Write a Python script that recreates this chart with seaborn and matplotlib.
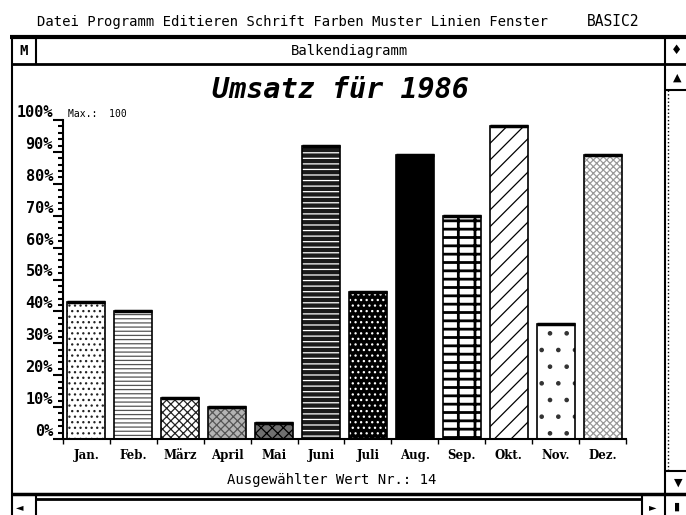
import numpy as np
import matplotlib
matplotlib.use('Agg')
import matplotlib.pyplot as plt
import seaborn as sns

# Daten: Umsatz je Monat in Prozent
monate = ['Jan.', 'Feb.', 'März', 'April', 'Mai', 'Juni', 'Juli', 'Aug.', 'Sep.', 'Okt.', 'Nov.', 'Dez.']
umsatz = [43, 40, 13, 10, 5, 92, 46, 89, 70, 98, 36, 89]
prozent = [0, 10, 20, 30, 40, 50, 60, 70, 80, 90, 100]
menue = ['Datei', 'Programm', 'Editieren', 'Schrift', 'Farben', 'Muster', 'Linien', 'Fenster']

# Muster je Balken (Füllfarbe, Musterfarbe, Muster)
fuellung = ['white', 'white', 'white', '#b4b4b4', '#707070', '#1a1a1a',
            'black', 'black', 'white', 'white', 'white', 'white']
musterfarbe = ['#222222', '#555555', '#222222', '#555555', 'black', 'white',
               'white', 'black', 'black', 'black', '#333333', '#999999']
muster = ['...', '----', 'xxxx', 'xxxx', 'xxx', '---', '...', '', '+-', '//', '.', 'xxxxx']

sns.set_theme(style='ticks')
plt.rcParams['font.family'] = ['DejaVu Sans Mono', 'DejaVu Sans']
plt.rcParams['hatch.linewidth'] = 0.9
plt.rcParams['text.color'] = 'black'
plt.rcParams['xtick.color'] = 'black'
plt.rcParams['ytick.color'] = 'black'

fig = plt.figure(figsize=(6.86, 5.15), dpi=100)

# Fensterrahmen in Pixelkoordinaten
bg = fig.add_axes([0, 0, 1, 1])
bg.set_xlim(0, 686)
bg.set_ylim(515, 0)
bg.axis('off')

def linie(x, y, lw=1.5, ls='-'):
    bg.plot(x, y, color='black', lw=lw, ls=ls, solid_capstyle='butt')

linie([10, 686], [37, 37], lw=3)
linie([12, 686], [64, 64], lw=2)
linie([12, 12], [37, 515])
linie([36, 36], [37, 64])
linie([665, 665], [37, 515])
linie([665, 686], [90, 90])
linie([668, 668], [90, 471], lw=1, ls=':')
linie([665, 686], [471, 471])
linie([12, 686], [494, 494], lw=2.5)
linie([36, 642], [499, 499], lw=2)
linie([36, 36], [494, 515])
linie([642, 642], [494, 515])

bg.text(37, 22, ' '.join(menue), fontsize=10, va='center', ha='left')
bg.text(587, 22, 'BASIC2', fontsize=10.5, va='center', ha='left')
bg.text(349, 51, 'Balkendiagramm', fontsize=10, va='center', ha='center')
bg.text(24, 51, 'M', fontsize=10, fontweight='bold', va='center', ha='center')
bg.text(677, 51, '♦', fontsize=9, va='center', ha='center', family='DejaVu Sans')
bg.text(677, 78, '▲', fontsize=8, va='center', ha='center', family='DejaVu Sans')
bg.text(678, 483, '▼', fontsize=8, va='center', ha='center', family='DejaVu Sans')
bg.text(20, 507, '◄', fontsize=7, va='center', ha='center', family='DejaVu Sans')
bg.text(653, 507, '►', fontsize=7, va='center', ha='center', family='DejaVu Sans')
bg.text(677, 507, '▮', fontsize=8, va='center', ha='center', family='DejaVu Sans')

bg.text(340, 90, 'Umsatz für 1986', fontsize=20.5, fontweight='bold', style='italic',
        va='center', ha='center')
bg.text(68, 114, 'Max.:  100', fontsize=7, va='center', ha='left')
bg.text(332, 480, 'Ausgewählter Wert Nr.: 14', fontsize=10, va='center', ha='center')

# Diagramm
ax = fig.add_axes([63 / 686, 1 - 439 / 515, 563 / 686, 319 / 515])
ax.set_facecolor('none')

sns.barplot(x=monate, y=umsatz, color='white', width=0.81, errorbar=None,
            linewidth=0, ax=ax)
for p, fc, hc, h in zip(ax.patches, fuellung, musterfarbe, muster):
    p.set_facecolor(fc)
    p.set_edgecolor(hc)
    p.set_hatch(h)
    p.set_linewidth(0)
    if h == '+-' and hasattr(p, 'set_hatch_linewidth'):
        p.set_hatch_linewidth(2.0)

# Umrisse und kräftige Oberkante
sns.barplot(x=monate, y=umsatz, fill=False, color='black', width=0.81, errorbar=None,
            linewidth=1.2, ax=ax)
pos = np.arange(len(monate))
ax.hlines(umsatz, pos - 0.405, pos + 0.405, color='black', lw=2.5)

ax.set_xlim(-0.5, len(monate) - 0.5)
ax.set_ylim(0, 100)
ax.set_xlabel('')
ax.set_ylabel('')

ax.set_yticks(prozent, [f'{v}%' for v in prozent])
ax.set_yticks(np.arange(0, 101, 2), minor=True)
ax.tick_params(axis='y', which='major', length=7.2, width=1.5, pad=0, labelsize=11, color='black')
ax.tick_params(axis='y', which='minor', length=3.6, width=1.5, color='black')
for lab in ax.get_yticklabels():
    lab.set_fontweight('bold')
    lab.set_verticalalignment('bottom')

ax.set_xticks(pos, monate)
ax.set_xticks(np.arange(-0.5, len(monate), 1), minor=True)
ax.tick_params(axis='x', which='major', length=0, pad=7, labelsize=8.5)
ax.tick_params(axis='x', which='minor', length=3.6, width=1, color='black')
for lab in ax.get_xticklabels():
    lab.set_fontweight('bold')
    lab.set_family('DejaVu Serif')

sns.despine(ax=ax)
for s in ['left', 'bottom']:
    ax.spines[s].set_linewidth(1.5)
    ax.spines[s].set_color('black')

fig.savefig('out.png', dpi=100)
